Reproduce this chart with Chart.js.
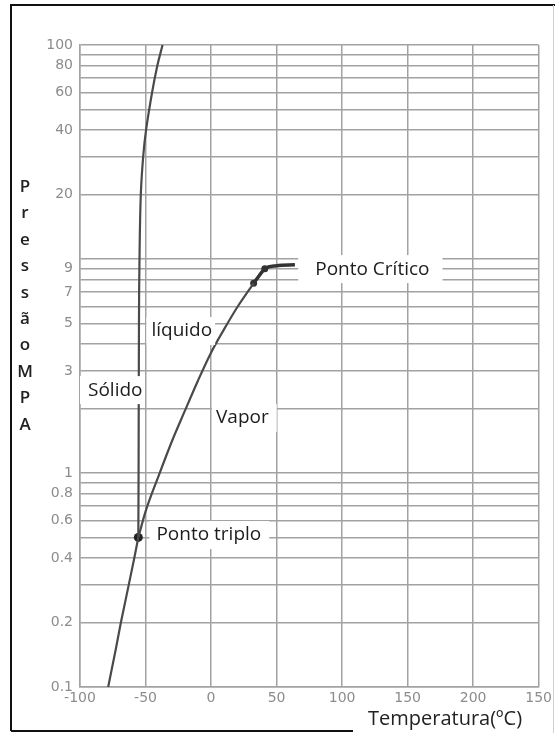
<!DOCTYPE html>
<html>
<head>
<meta charset="utf-8">
<script src="https://cdn.jsdelivr.net/npm/chart.js@4"></script>
<style>
  html, body { margin: 0; padding: 0; background: #fff; }
  #wrap { width: 555px; height: 733px; position: relative; }
</style>
</head>
<body>
<div id="wrap"><canvas id="phase"></canvas></div>
<script>
// curves (temperature in ºC, pressure in MPa)
const sublimT = [-78.5, -72.7, -68.8, -62.8, -58.6, -55.5];
const sublimP = [0.1, 0.15, 0.2, 0.3, 0.4, 0.5];

const vapT = [-55.5, -50, -40, -30, -20, -10, 0, 10, 20, 32.5];
const vapP = [0.5, 0.66, 0.97, 1.4, 1.95, 2.7, 3.65, 4.7, 5.95, 7.7];

const critT = [32.5, 37, 41, 50, 64];
const critP = [7.7, 8.4, 9.0, 9.3, 9.4];

const meltT = [-55.5, -55.3, -55, -54.6, -53.6, -51.8, -49.6, -45, -41, -37];
const meltP = [0.5, 1, 5, 10, 20, 30, 40, 60, 80, 100];

const triplePoint = [-55.5, 0.5];
const criticalPoint = [32.5, 7.7];
const bendPoint = [41, 9.0];

// axis ticks
const xTicks = [-100, -50, 0, 50, 100, 150, 200, 250];
const xLabels = ['-100', '-50', '0', '50', '100', '150', '200', '150'];
const yGrid = [0.1, 0.2, 0.3, 0.4, 0.5, 0.6, 0.7, 0.8, 0.9,
               1, 2, 3, 4, 5, 6, 7, 8, 9,
               10, 20, 30, 40, 50, 60, 70, 80, 90, 100];
const yLabels = {0.1: '0.1', 0.2: '0.2', 0.4: '0.4', 0.6: '0.6', 0.8: '0.8', 1: '1',
                 3: '3', 5: '5', 7: '7', 9: '9', 20: '20', 40: '40', 60: '60', 80: '80', 100: '100'};

const yTitle = 'PressãoMPA';
const xTitle = 'Temperatura(ºC)';

// region labels, anchored at data coords (text left edge, vertical centre)
const regionLabels = [
    { text: 'Ponto Crítico', t: 79.5, p: 8.97, padL: 17, padR: 13 },
    { text: 'líquido', t: -45.5, p: 4.61, padL: 5, padR: 3 },
    { text: 'Sólido', t: -93.9, p: 2.44, padL: 8, padR: 2 },
    { text: 'Vapor', t: 3.8, p: 1.81, padL: 4, padR: 8 },
    { text: 'Ponto triplo', t: -41.7, p: 0.513, padL: 7, padR: 8 }
];

const toXY = (ts, ps) => ts.map((t, i) => ({ x: t, y: ps[i] }));

const curveColor = '#4a4a4a';
const gridColor = '#a2a2a2';
const tickColor = '#8c8c8c';

const framePlugin = {
    id: 'frame',
    beforeDraw(chart) {
        const ctx = chart.ctx;
        ctx.save();
        ctx.fillStyle = '#fff';
        ctx.fillRect(0, 0, chart.width, chart.height);
        ctx.strokeStyle = '#111';
        ctx.lineWidth = 2;
        ctx.beginPath();
        ctx.moveTo(11, 731);
        ctx.lineTo(11, 5);
        ctx.lineTo(555, 5);
        ctx.moveTo(11, 731);
        ctx.lineTo(353, 731);
        ctx.stroke();
        ctx.strokeStyle = '#d0d0d0';
        ctx.lineWidth = 1;
        ctx.beginPath();
        ctx.moveTo(553.5, 5);
        ctx.lineTo(553.5, 733);
        ctx.stroke();
        ctx.restore();
    }
};

const labelPlugin = {
    id: 'labels',
    afterDatasetsDraw(chart) {
        const ctx = chart.ctx;
        const xs = chart.scales.x, ys = chart.scales.y;
        ctx.save();
        ctx.font = '19px "Open Sans"';
        ctx.textBaseline = 'middle';
        ctx.textAlign = 'left';
        regionLabels.forEach(l => {
            const px = xs.getPixelForValue(l.t);
            const py = ys.getPixelForValue(l.p);
            const w = ctx.measureText(l.text).width;
            ctx.fillStyle = '#fff';
            ctx.fillRect(px - l.padL, py - 14, w + l.padL + l.padR, 28);
            ctx.fillStyle = '#1c1c1c';
            ctx.fillText(l.text, px, py);
        });

        // stacked y title
        ctx.font = '600 17px "Open Sans"';
        ctx.textAlign = 'center';
        ctx.textBaseline = 'alphabetic';
        ctx.fillStyle = '#222';
        Array.from(yTitle).forEach((ch, i) => {
            ctx.fillText(ch, 25, 192 + i * 26.4);
        });

        // x title
        ctx.font = '20px "Open Sans"';
        ctx.textAlign = 'left';
        ctx.textBaseline = 'middle';
        ctx.fillText(xTitle, 368, 719);
        ctx.restore();
    }
};

new Chart(document.getElementById('phase'), {
    type: 'scatter',
    data: {
        datasets: [
            { data: toXY(sublimT, sublimP), showLine: true, borderColor: curveColor, borderWidth: 2.2, pointRadius: 0 },
            { data: toXY(vapT, vapP), showLine: true, borderColor: curveColor, borderWidth: 2.2, pointRadius: 0, cubicInterpolationMode: 'monotone' },
            { data: toXY(critT, critP), showLine: true, borderColor: '#333', borderWidth: 3.5, pointRadius: 0, cubicInterpolationMode: 'monotone' },
            { data: toXY(meltT, meltP), showLine: true, borderColor: curveColor, borderWidth: 2.2, pointRadius: 0, tension: 0.4 },
            { data: [{ x: triplePoint[0], y: triplePoint[1] }], pointRadius: 4.5, pointBackgroundColor: '#222', pointBorderWidth: 0 },
            { data: [{ x: criticalPoint[0], y: criticalPoint[1] }], pointRadius: 3.5, pointBackgroundColor: '#333', pointBorderWidth: 0 },
            { data: [{ x: bendPoint[0], y: bendPoint[1] }], pointRadius: 3.5, pointBackgroundColor: '#333', pointBorderWidth: 0 }
        ]
    },
    options: {
        responsive: true,
        maintainAspectRatio: false,
        animation: false,
        layout: { padding: { left: 0, right: 13, top: 45, bottom: 0 } },
        plugins: {
            legend: { display: false },
            tooltip: { enabled: false }
        },
        scales: {
            x: {
                type: 'linear',
                min: -100,
                max: 250,
                afterBuildTicks: axis => { axis.ticks = xTicks.map(v => ({ value: v })); },
                afterFit: axis => { axis.height = 46; },
                grid: { color: gridColor, lineWidth: 1.5, drawTicks: false },
                border: { color: gridColor, width: 1.5 },
                ticks: {
                    color: tickColor,
                    font: { family: 'DejaVu Sans', size: 14 },
                    padding: 3,
                    maxRotation: 0,
                    autoSkip: false,
                    callback: (v, i) => xLabels[i]
                }
            },
            y: {
                type: 'logarithmic',
                min: 0.1,
                max: 100,
                afterBuildTicks: axis => { axis.ticks = yGrid.map(v => ({ value: v })); },
                afterFit: axis => { axis.width = 80; },
                grid: { color: gridColor, lineWidth: 1.5, drawTicks: false },
                border: { color: gridColor, width: 1.5 },
                ticks: {
                    color: tickColor,
                    font: { family: 'DejaVu Sans', size: 14 },
                    padding: 7,
                    autoSkip: false,
                    callback: v => yLabels[v] || ''
                }
            }
        }
    },
    plugins: [framePlugin, labelPlugin]
});
</script>
</body>
</html>
